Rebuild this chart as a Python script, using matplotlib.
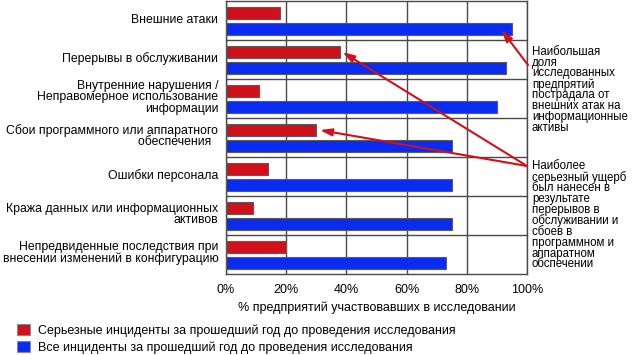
import matplotlib
matplotlib.use("Agg")
import matplotlib.pyplot as plt
from matplotlib.patches import Patch
import numpy as np

plt.rcParams['font.family'] = ['Liberation Sans', 'DejaVu Sans']

categories = [
    "Внешние атаки",
    "Перерывы в обслуживании",
    "Внутренние нарушения /\nНеправомерное использование\nинформации",
    "Сбои программного или аппаратного\nобеспечения  ",
    "Ошибки персонала",
    "Кража данных или информационных\nактивов",
    "Непредвиденные последствия при\nвнесении изменений в конфигурацию",
]
serious = [18, 38, 11, 30, 14, 9, 20]
all_inc = [95, 93, 90, 75, 75, 75, 73]
xticks = [0, 20, 40, 60, 80, 100]
xticklabels = ["0%", "20%", "40%", "60%", "80%", "100%"]
legend_labels = [
    "Серьезные инциденты за прошедший год до проведения исследования",
    "Все инциденты за прошедший год до проведения исследования",
]
note1 = ("Наибольшая\nдоля\nисследованных\nпредпрятий\nпострадала от\n"
         "внешних атак на\nинформационные\nактивы")
note2 = ("Наиболее\nсерьезный ущерб\nбыл нанесен в\nрезультате\nперерывов в\n"
         "обслуживании и\nсбоев в\nпрограммном и\nаппаратном\nобспечении")

RED = "#d0111b"
BLUE = "#0a2cf2"
EDGE = "#5a5a5a"
GRID = "#4a4a4a"
FS = 9.0
FSY = 8.85
FSN = 8.3

fig = plt.figure(figsize=(6.37, 3.55), dpi=100)
ax = fig.add_axes([226/637, 1-274/355, (527-226)/637, 273/355])

y = np.arange(len(categories))
h = 0.3
ax.barh(y - 0.19, serious, height=h, color=RED, edgecolor=EDGE, linewidth=0.8, zorder=3)
ax.barh(y + 0.21, all_inc, height=h, color=BLUE, edgecolor=EDGE, linewidth=0.8, zorder=3)

ax.set_xlim(0, 100)
ax.set_ylim(len(categories) - 0.5, -0.5)
ax.set_xticks(xticks)
ax.set_xticklabels(xticklabels, fontsize=FS)
ax.set_yticks(y - 0.06)
ax.set_yticklabels(categories, fontsize=FSY, linespacing=0.92)
ax.set_yticks(y[:-1] + 0.5, minor=True)
ax.tick_params(axis='both', which='both', length=0)
ax.tick_params(axis='x', pad=7)
ax.tick_params(axis='y', pad=5.5)
ax.grid(True, axis='x', color=GRID, linewidth=1.0, zorder=1)
ax.grid(True, axis='y', which='minor', color=GRID, linewidth=1.0, zorder=1)
for s in ax.spines.values():
    s.set_color(GRID)
    s.set_linewidth(1.0)
ax.set_xlabel("% предприятий участвовавших в исследовании", fontsize=FS, labelpad=4)

arrow_kw = dict(arrowstyle="-|>,head_length=0.7,head_width=0.22", color=RED, lw=1.5,
                shrinkA=0, shrinkB=0)
ax.annotate("", xy=(all_inc[0] - 3.5, 0 + 0.24), xycoords='data',
            xytext=(528, 355 - 65), textcoords='figure pixels',
            arrowprops=arrow_kw, annotation_clip=False)
ax.annotate("", xy=(serious[1] + 0.7, 1 - 0.19), xycoords='data',
            xytext=(527, 355 - 166), textcoords='figure pixels',
            arrowprops=arrow_kw, annotation_clip=False)
ax.annotate("", xy=(serious[3] + 1.2, 3 - 0.19), xycoords='data',
            xytext=(527, 355 - 166), textcoords='figure pixels',
            arrowprops=arrow_kw, annotation_clip=False)

fig.text(532/637, 1 - 46/355, note1, fontsize=FSN, va='top', ha='left', linespacing=0.86)
fig.text(532/637, 1 - 160/355, note2, fontsize=FSN, va='top', ha='left', linespacing=0.86)

handles = [Patch(facecolor=RED, edgecolor="#888888", linewidth=0.8),
           Patch(facecolor=BLUE, edgecolor="#888888", linewidth=0.8)]
fig.legend(handles, legend_labels, loc='upper left',
           bbox_to_anchor=(17/637, 1 - 324/355), frameon=False, fontsize=FS,
           handlelength=1.0, handleheight=1.0, handletextpad=0.65,
           labelspacing=0.35, borderpad=0, borderaxespad=0)

fig.savefig("out.png", dpi=100)
